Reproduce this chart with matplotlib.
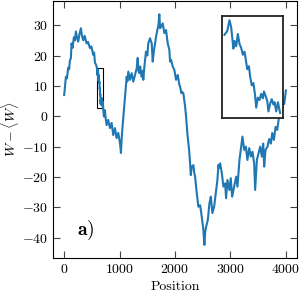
import matplotlib
matplotlib.use('agg')
import matplotlib.pyplot as plt
from matplotlib.patches import Rectangle

plt.rcParams['font.family'] = 'serif'
plt.rcParams['font.serif'] = ['cmr10']
plt.rcParams['mathtext.fontset'] = 'cm'
plt.rcParams['axes.formatter.use_mathtext'] = True
plt.rcParams['font.size'] = 10

# positions and W - <W>
position = [0, 15, 31, 50, 72, 90, 103, 120, 133, 150, 175, 195, 211, 230, 253, 275,
            302, 320, 344, 370, 404, 430, 464, 490, 524, 540, 555, 575, 590,
            600, 605, 609, 612, 616, 618, 621, 624, 627, 630, 633, 636, 638, 641,
            644, 646, 649, 652, 655, 657, 660, 663, 666, 669, 671, 674, 677, 679,
            682, 685, 688, 690, 693, 696, 700,
            705, 717, 735, 750, 766, 795, 826, 856, 885, 916, 946, 976, 1006, 1024,
            1035, 1048, 1078, 1097, 1127, 1140, 1157, 1187, 1217, 1247, 1277, 1308,
            1326, 1340, 1355, 1370, 1398, 1415, 1427, 1450, 1476, 1500, 1518, 1548,
            1579, 1597, 1621, 1640, 1657, 1680, 1700, 1716, 1730, 1747, 1778, 1807,
            1837, 1868, 1897, 1910, 1928, 1958, 1987, 2018, 2049, 2078, 2090, 2114,
            2121, 2150, 2181, 2199, 2222, 2253, 2271, 2284, 2301, 2331, 2345, 2361,
            2392, 2421, 2452, 2482, 2511, 2529, 2545, 2560, 2591, 2620, 2645, 2674,
            2705, 2735, 2764, 2783, 2795, 2813, 2844, 2873, 2903, 2921, 2945, 2981,
            3005, 3030, 3066, 3102, 3126, 3162, 3192, 3216, 3247, 3277, 3306, 3337,
            3368, 3397, 3427, 3445, 3476, 3505, 3536, 3566, 3590, 3608, 3632, 3667,
            3698, 3729, 3753, 3783, 3814, 3843, 3874, 3898, 3921, 3951, 3969, 4000]
w_dev = [7, 10, 13, 12.5, 16, 15.5, 18.5, 19, 24, 22.5, 26, 25, 27.9, 26, 24.6, 27,
         29, 26.5, 25, 26.5, 24, 24.5, 22.5, 23, 20.2, 21, 17.6, 17, 16,
         13.5, 14.0, 15.4, 14.5, 11.7, 12.7, 12.0, 13.6, 12.3, 11.8, 10.9, 11.3, 10.4, 9.0,
         9.4, 8.1, 6.9, 7.2, 5.6, 4.0, 5.3, 5.0, 5.8, 5.2, 6.1, 5.5, 4.8, 3.5,
         4.5, 5.1, 4.4, 4.7, 3.5, 4.7, 3.3,
         2.1, -0.1, 2, -1, -2.9, -1.2, -3.9, -2.2, -6.2, -3.9, -7.2, -5.5, -8.8, -12.1,
         -8, -4.5, 2.1, 6.5, 13, 11.5, 14.7, 12, 14.2, 11.4, 13.6, 15.8,
         19.2, 15, 14.2, 16.4, 13, 15, 12, 17, 21.3, 20, 24.1, 25.7,
         24, 18, 21.9, 24, 26.2, 28.4, 30, 33.6, 29, 29.5, 30.6, 27.4,
         28.4, 24, 21.9, 18, 18.6, 16.4, 15.3, 12, 13.6, 10.3, 9.8, 7.6,
         8.1, 7.6, 3.2, -0.1, -5.6, -11.1, -15.5, -19.4, -16.6, -16.1, -18.5, -19.9,
         -25.4, -29.8, -29.3, -33.1, -37.5, -42.4, -38, -36.4, -34.2, -28.7, -26.5, -31.9,
         -29.8, -25.4, -21, -16, -17, -15.5, -18.8, -23.2, -22.1, -27, -21, -24.3,
         -20.4, -26.5, -23.2, -19.9, -23.2, -14.4, -10, -6.7, -11.1, -10, -14.4, -10.5,
         -13.3, -11.7, -15.5, -24.3, -14.4, -12.2, -10, -13.3, -9, -16.6, -11.1, -10,
         -7.5, -9, -5.5, -7.8, -3.5, -4.5, -0.5, 2.6, 1.5, 5, 4, 8.5]

zoom_range = (600, 700)

fig = plt.figure(figsize=(3, 3), dpi=100)
ax = fig.add_axes([0.177, 0.141, 0.813, 0.856])
ax.plot(position, w_dev, color='#1f77b4', linewidth=1.5)
ax.set_xlabel('Position')
ax.set_ylabel(r'$W - \langle W \rangle$')
ax.yaxis.set_label_coords(-0.13, 0.5)
ax.set_xticks([0, 1000, 2000, 3000, 4000])
ax.set_yticks([-40, -30, -20, -10, 0, 10, 20, 30])
ax.set_xlim(-200, 4200)
ax.set_ylim(-46.6, 38)
ax.tick_params(direction='in', top=True, right=True, length=5, width=0.8, color='#444444')
ax.text(0.1, 0.09, r'$\mathbf{a)}$', transform=ax.transAxes, fontsize=14)

# inset zoom
axins = fig.add_axes([0.739, 0.608, 0.204, 0.34])
sel = [i for i, p in enumerate(position) if zoom_range[0] <= p <= zoom_range[1]]
axins.plot([position[i] for i in sel], [w_dev[i] for i in sel], color='#1f77b4', linewidth=1.5)
axins.set_xticks([])
axins.set_yticks([])
for s in axins.spines.values():
    s.set_linewidth(1.3)
    s.set_color('#222222')

x0, x1 = axins.get_xlim()
y0, y1 = axins.get_ylim()
ax.add_patch(Rectangle((x0, y0), x1 - x0, y1 - y0, fill=False, edgecolor='black', linewidth=0.8))

plt.savefig('out.png')
